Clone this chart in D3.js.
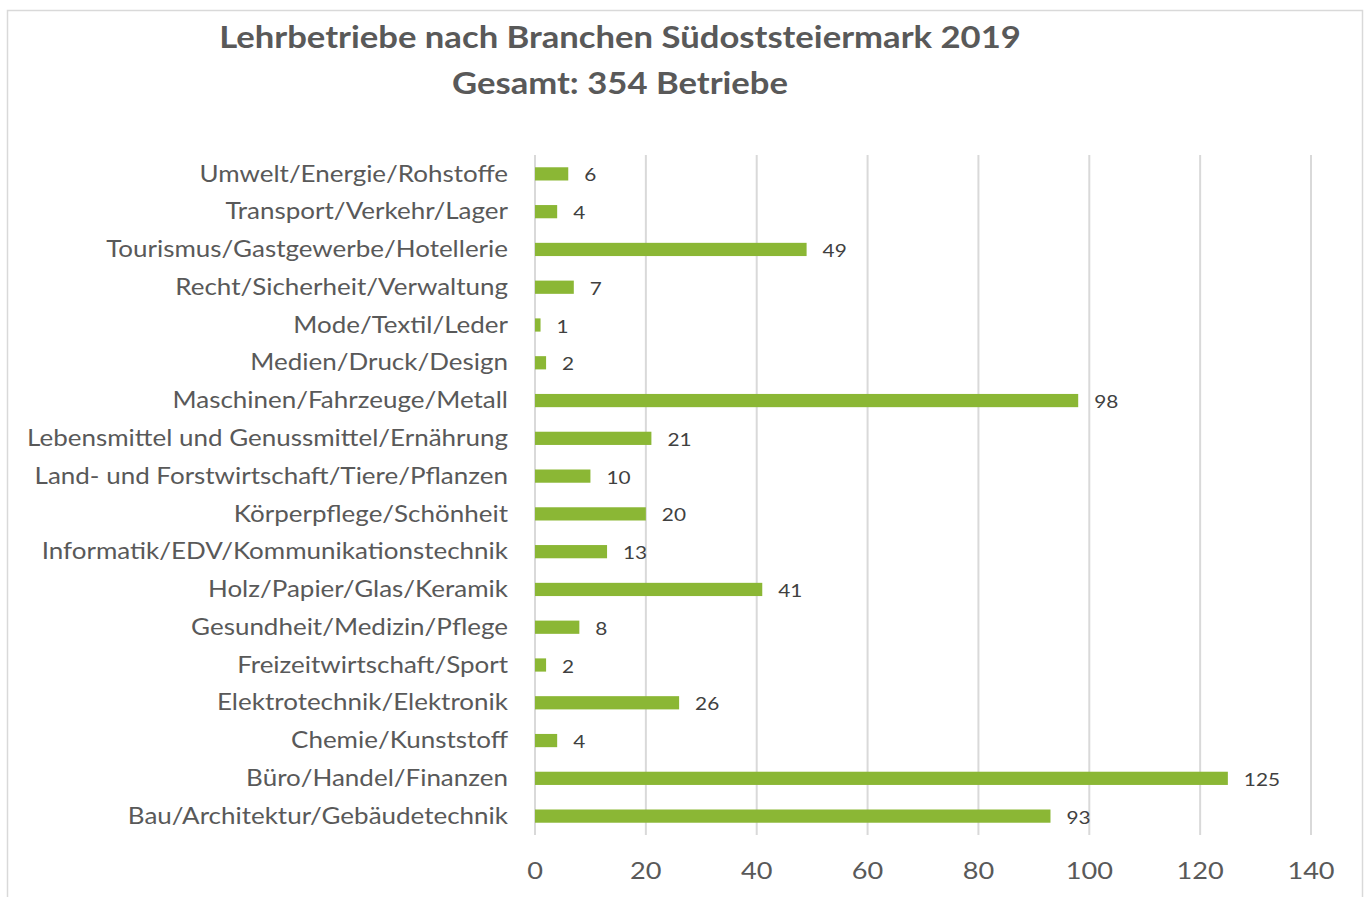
<!DOCTYPE html>
<html><head><meta charset="utf-8">
<script src="https://cdn.jsdelivr.net/npm/d3@7"></script>
<style>body{margin:0;background:#fff}svg{display:block}</style>
</head><body>
<script>
const categories = ["Umwelt/Energie/Rohstoffe","Transport/Verkehr/Lager","Tourismus/Gastgewerbe/Hotellerie","Recht/Sicherheit/Verwaltung","Mode/Textil/Leder","Medien/Druck/Design","Maschinen/Fahrzeuge/Metall","Lebensmittel und Genussmittel/Ernährung","Land- und Forstwirtschaft/Tiere/Pflanzen","Körperpflege/Schönheit","Informatik/EDV/Kommunikationstechnik","Holz/Papier/Glas/Keramik","Gesundheit/Medizin/Pflege","Freizeitwirtschaft/Sport","Elektrotechnik/Elektronik","Chemie/Kunststoff","Büro/Handel/Finanzen","Bau/Architektur/Gebäudetechnik"];
const values = [6,4,49,7,1,2,98,21,10,20,13,41,8,2,26,4,125,93];
const ticks = [0,20,40,60,80,100,120,140];
const titleLines = ["Lehrbetriebe nach Branchen Südoststeiermark 2019","Gesamt: 354 Betriebe"];

const W=1368,H=897, SX=1.155;
const svg=d3.select("body").append("svg").attr("width",W).attr("height",H);
svg.append("rect").attr("x",7.5).attr("y",10.5).attr("width",1355).attr("height",H).attr("fill","#fff").attr("stroke","#d9d9d9").attr("stroke-width",1.5);

const font="Lato, 'Open Sans', sans-serif";
const x=d3.scaleLinear().domain([0,140]).range([535,1311]);
const y=d3.scaleBand().domain(categories).range([155,835]).paddingInner(0.65).paddingOuter(0.325);
const tr=(px,py)=>`translate(${px},${py}) scale(${SX},1)`;

svg.append("g").selectAll("line").data(ticks).join("line")
  .attr("x1",d=>x(d)).attr("x2",d=>x(d)).attr("y1",155).attr("y2",835)
  .attr("stroke","#d9d9d9").attr("stroke-width",2);

svg.append("g").selectAll("rect").data(values).join("rect")
  .attr("x",x(0)).attr("y",(d,i)=>y(categories[i]))
  .attr("width",d=>x(d)-x(0)).attr("height",y.bandwidth())
  .attr("fill","#8bb735");

svg.append("g").selectAll("text").data(values).join("text")
  .attr("transform",(d,i)=>tr(x(d)+16,y(categories[i])+y.bandwidth()/2+3))
  .attr("dominant-baseline","middle").attr("font-family",font).attr("font-size",18)
  .attr("fill","#404040").text(d=>d);

svg.append("g").selectAll("text").data(categories).join("text")
  .attr("transform",d=>tr(508,y(d)+y.bandwidth()/2+2))
  .attr("text-anchor","end").attr("dominant-baseline","middle")
  .attr("font-family",font).attr("font-size",22.5).attr("fill","#595959").text(d=>d);

svg.append("g").selectAll("text").data(ticks).join("text")
  .attr("transform",d=>tr(x(d),873))
  .attr("text-anchor","middle").attr("dominant-baseline","middle")
  .attr("font-family",font).attr("font-size",23.5).attr("fill","#595959").text(d=>d);

svg.append("g").selectAll("text").data(titleLines).join("text")
  .attr("transform",(d,i)=>tr(620,40+i*46))
  .attr("text-anchor","middle").attr("dominant-baseline","middle")
  .attr("font-family",font).attr("font-weight","bold").attr("font-size",30).attr("fill","#595959").text(d=>d);
</script>
</body></html>
